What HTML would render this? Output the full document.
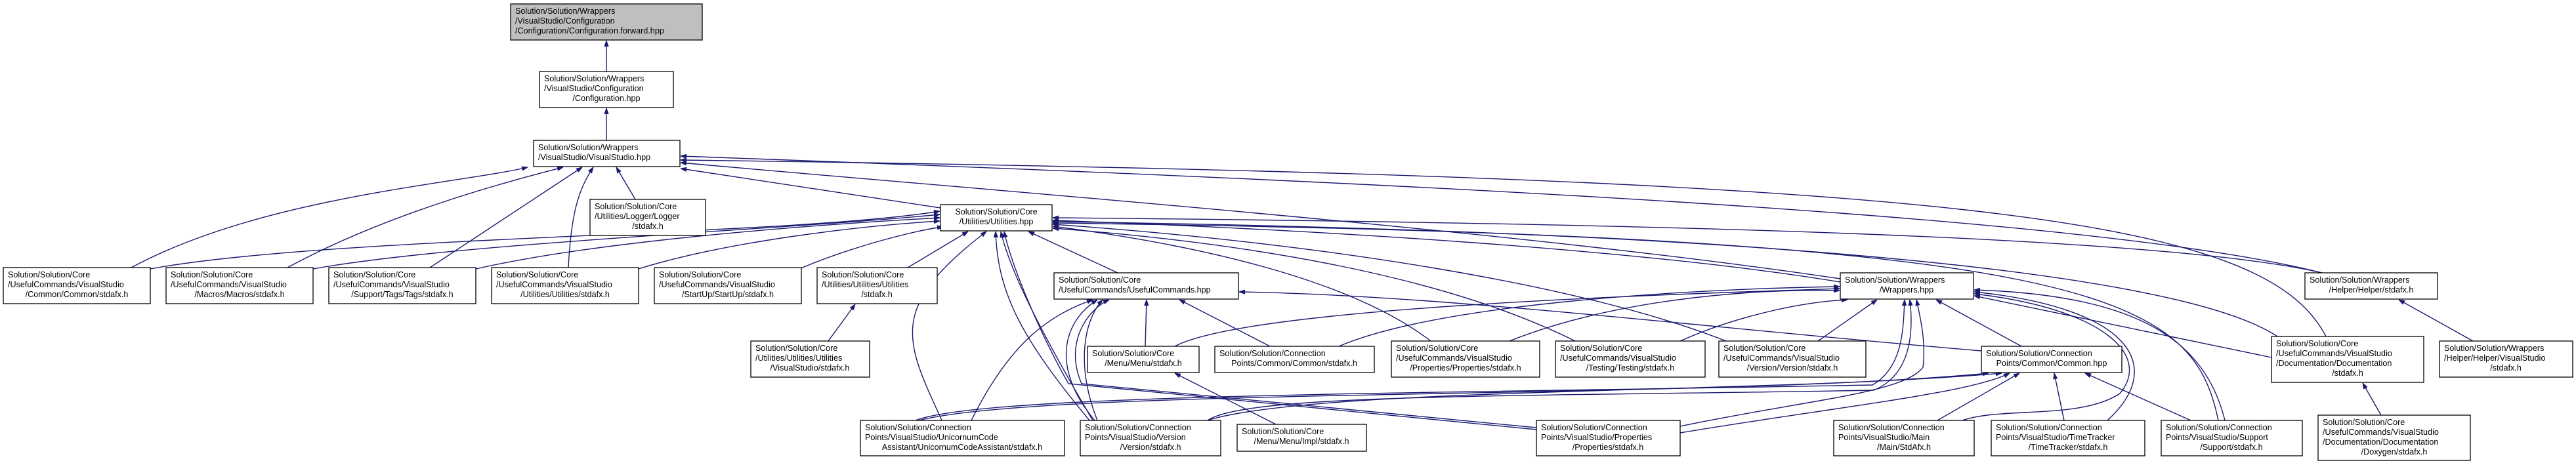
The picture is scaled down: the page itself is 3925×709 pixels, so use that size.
<!DOCTYPE html>
<html><head><meta charset="utf-8">
<style>
html,body{margin:0;padding:0;background:#fff;}
svg{display:block;}
text{font-family:"Liberation Sans",sans-serif;font-size:12.6px;fill:#000;}
.e{fill:none;stroke:#191970;stroke-width:1.4;marker-end:url(#a);}
.n{fill:#fff;stroke:#000;stroke-width:1.3;}
</style></head><body>
<svg width="3925" height="709" viewBox="0 0 3925 709" xmlns="http://www.w3.org/2000/svg">
<defs>
<marker id="a" viewBox="0 0 10 10" refX="10" refY="5" markerWidth="9" markerHeight="9" markerUnits="userSpaceOnUse" orient="auto">
<path d="M0,1.5 L10,5 L0,8.5 z" fill="#191970" stroke="#191970"/>
</marker>
</defs>
<g>
<path class="e" d="M924,109 L924,62"/>
<path class="e" d="M924,214 L924,165"/>
<path class="e" d="M200,408 C400,300 700,280 804,255"/>
<path class="e" d="M438,408 C600,320 800,270 858,255"/>
<path class="e" d="M655,408 L887,255"/>
<path class="e" d="M866,408 C870,330 880,290 904,255"/>
<path class="e" d="M968,304 L939,255"/>
<path class="e" d="M1433,317 L1037,257"/>
<path class="e" d="M2804,425 C2300,350 1500,290 1037,248"/>
<path class="e" d="M3538,416 C3200,330 2200,280 1037,238"/>
<path class="e" d="M3544,513 C3450,330 3000,270 1037,244"/>

<path class="e" d="M229,410 C500,360 1200,360 1432,322"/>
<path class="e" d="M477,410 C700,370 1200,350 1432,327"/>
<path class="e" d="M725,410 C900,370 1200,345 1432,332"/>
<path class="e" d="M973,410 C1100,370 1300,345 1432,337"/>
<path class="e" d="M1218,410 C1300,375 1400,350 1437,346"/>
<path class="e" d="M1383,408 L1475,353"/>
<path class="e" d="M1435,641 C1380,520 1350,470 1503,353"/>
<path class="e" d="M1660,641 C1560,520 1520,450 1517,353"/>
<path class="e" d="M1665,641 C1600,530 1540,420 1525,353"/>
<path class="e" d="M2341,655 L1628,585 C1580,500 1540,400 1530,353"/>
<path class="e" d="M1703,416 L1567,353"/>
<path class="e" d="M2180,520 C2050,420 1800,370 1604,345"/>
<path class="e" d="M2400,520 C2200,420 1900,370 1604,348"/>
<path class="e" d="M2630,520 C2400,430 2000,370 1604,342"/>
<path class="e" d="M3538,416 C3300,360 2500,340 1604,332"/>
<path class="e" d="M3470,513 C3300,400 2500,350 1604,338"/>
<path class="e" d="M3380,641 C3340,450 3200,360 1604,340"/>
<path class="e" d="M2804,430 C2500,380 2000,350 1604,336"/>

<path class="e" d="M1480,641 C1540,520 1600,480 1665,457"/>
<path class="e" d="M1668,641 C1600,560 1620,490 1672,457"/>
<path class="e" d="M1672,641 C1640,560 1650,490 1680,457"/>
<path class="e" d="M2341,652 L1648,585 C1620,520 1660,470 1690,457"/>
<path class="e" d="M1745,528 L1747,457"/>
<path class="e" d="M1935,528 L1797,457"/>
<path class="e" d="M3019,535 C2600,500 2200,450 1888,445"/>

<path class="e" d="M1790,528 C1900,470 2500,450 2803,440"/>
<path class="e" d="M2040,528 C2200,460 2600,440 2803,437"/>
<path class="e" d="M2300,520 C2450,460 2650,440 2803,443"/>
<path class="e" d="M2560,520 C2650,480 2750,460 2815,457"/>
<path class="e" d="M2770,520 L2860,457"/>
<path class="e" d="M3080,528 L2950,457"/>
<path class="e" d="M1395,641 C1500,600 2200,600 2853,587 C2900,560 2900,500 2902,457"/>
<path class="e" d="M1840,641 C1900,600 2300,605 2855,595 C2915,570 2915,500 2910,457"/>
<path class="e" d="M2560,650 C2750,610 2900,600 2930,560 C2935,520 2925,480 2920,457"/>
<path class="e" d="M2990,641 C3050,620 3170,640 3230,600 C3280,540 3200,470 3008,448"/>
<path class="e" d="M3211,641 C3300,560 3250,470 3008,445"/>
<path class="e" d="M3390,641 C3360,520 3260,450 3008,442"/>
<path class="e" d="M3461,545 L3008,451"/>

<path class="e" d="M1400,641 C1600,590 2600,610 3030,569"/>
<path class="e" d="M1840,641 C2000,590 2700,600 3050,569"/>
<path class="e" d="M2560,660 C2800,620 3000,600 3062,569"/>
<path class="e" d="M2952,641 L3077,569"/>
<path class="e" d="M3145,641 L3130,569"/>
<path class="e" d="M3338,641 L3177,569"/>

<path class="e" d="M1944,647 L1790,569"/>
<path class="e" d="M1262,520 L1303,464"/>
<path class="e" d="M3768,520 L3655,457"/>
<path class="e" d="M3628,633 L3600,584"/>
</g>

<g>
<rect x="778" y="6" width="292" height="55" fill="#bfbfbf" stroke="#000" stroke-width="1.3"/>
<text x="785" y="21">Solution/Solution/Wrappers</text>
<text x="785" y="36">/VisualStudio/Configuration</text>
<text x="785" y="51">/Configuration/Configuration.forward.hpp</text>

<rect class="n" x="822" y="109" width="204" height="55"/>
<text x="829" y="124">Solution/Solution/Wrappers</text>
<text x="829" y="139">/VisualStudio/Configuration</text>
<text x="924" y="154" text-anchor="middle">/Configuration.hpp</text>

<rect class="n" x="813" y="214" width="223" height="40"/>
<text x="820" y="229">Solution/Solution/Wrappers</text>
<text x="820" y="244">/VisualStudio/VisualStudio.hpp</text>

<rect class="n" x="899" y="304" width="176" height="55"/>
<text x="906" y="319">Solution/Solution/Core</text>
<text x="906" y="334">/Utilities/Logger/Logger</text>
<text x="987" y="349" text-anchor="middle">/stdafx.h</text>

<rect class="n" x="1433" y="312" width="170" height="40"/>
<text x="1518" y="327" text-anchor="middle">Solution/Solution/Core</text>
<text x="1518" y="342" text-anchor="middle">/Utilities/Utilities.hpp</text>

<rect class="n" x="5" y="408" width="224" height="55"/>
<text x="12" y="423">Solution/Solution/Core</text>
<text x="12" y="438">/UsefulCommands/VisualStudio</text>
<text x="117" y="453" text-anchor="middle">/Common/Common/stdafx.h</text>

<rect class="n" x="253" y="408" width="224" height="55"/>
<text x="260" y="423">Solution/Solution/Core</text>
<text x="260" y="438">/UsefulCommands/VisualStudio</text>
<text x="365" y="453" text-anchor="middle">/Macros/Macros/stdafx.h</text>

<rect class="n" x="501" y="408" width="224" height="55"/>
<text x="508" y="423">Solution/Solution/Core</text>
<text x="508" y="438">/UsefulCommands/VisualStudio</text>
<text x="613" y="453" text-anchor="middle">/Support/Tags/Tags/stdafx.h</text>

<rect class="n" x="749" y="408" width="224" height="55"/>
<text x="756" y="423">Solution/Solution/Core</text>
<text x="756" y="438">/UsefulCommands/VisualStudio</text>
<text x="861" y="453" text-anchor="middle">/Utilities/Utilities/stdafx.h</text>

<rect class="n" x="997" y="408" width="224" height="55"/>
<text x="1004" y="423">Solution/Solution/Core</text>
<text x="1004" y="438">/UsefulCommands/VisualStudio</text>
<text x="1109" y="453" text-anchor="middle">/StartUp/StartUp/stdafx.h</text>

<rect class="n" x="1245" y="408" width="183" height="55"/>
<text x="1252" y="423">Solution/Solution/Core</text>
<text x="1252" y="438">/Utilities/Utilities/Utilities</text>
<text x="1336" y="453" text-anchor="middle">/stdafx.h</text>

<rect class="n" x="1606" y="416" width="281" height="40"/>
<text x="1613" y="431">Solution/Solution/Core</text>
<text x="1613" y="446">/UsefulCommands/UsefulCommands.hpp</text>

<rect class="n" x="2804" y="416" width="203" height="40"/>
<text x="2811" y="431">Solution/Solution/Wrappers</text>
<text x="2905" y="446" text-anchor="middle">/Wrappers.hpp</text>

<rect class="n" x="3512" y="416" width="202" height="40"/>
<text x="3519" y="431">Solution/Solution/Wrappers</text>
<text x="3613" y="446" text-anchor="middle">/Helper/Helper/stdafx.h</text>

<rect class="n" x="3461" y="513" width="232" height="70"/>
<text x="3468" y="528">Solution/Solution/Core</text>
<text x="3468" y="543">/UsefulCommands/VisualStudio</text>
<text x="3468" y="558">/Documentation/Documentation</text>
<text x="3577" y="573" text-anchor="middle">/stdafx.h</text>

<rect class="n" x="1144" y="520" width="181" height="55"/>
<text x="1151" y="535">Solution/Solution/Core</text>
<text x="1151" y="550">/Utilities/Utilities/Utilities</text>
<text x="1234" y="565" text-anchor="middle">/VisualStudio/stdafx.h</text>

<rect class="n" x="2120" y="520" width="226" height="55"/>
<text x="2127" y="535">Solution/Solution/Core</text>
<text x="2127" y="550">/UsefulCommands/VisualStudio</text>
<text x="2233" y="565" text-anchor="middle">/Properties/Properties/stdafx.h</text>

<rect class="n" x="2370" y="520" width="228" height="55"/>
<text x="2377" y="535">Solution/Solution/Core</text>
<text x="2377" y="550">/UsefulCommands/VisualStudio</text>
<text x="2484" y="565" text-anchor="middle">/Testing/Testing/stdafx.h</text>

<rect class="n" x="2619" y="520" width="224" height="55"/>
<text x="2626" y="535">Solution/Solution/Core</text>
<text x="2626" y="550">/UsefulCommands/VisualStudio</text>
<text x="2731" y="565" text-anchor="middle">/Version/Version/stdafx.h</text>

<rect class="n" x="3717" y="520" width="203" height="55"/>
<text x="3724" y="535">Solution/Solution/Wrappers</text>
<text x="3724" y="550">/Helper/Helper/VisualStudio</text>
<text x="3818" y="565" text-anchor="middle">/stdafx.h</text>

<rect class="n" x="1657" y="528" width="170" height="40"/>
<text x="1664" y="543">Solution/Solution/Core</text>
<text x="1742" y="558" text-anchor="middle">/Menu/Menu/stdafx.h</text>

<rect class="n" x="1851" y="528" width="243" height="40"/>
<text x="1858" y="543">Solution/Solution/Connection</text>
<text x="1972" y="558" text-anchor="middle">Points/Common/Common/stdafx.h</text>

<rect class="n" x="3019" y="528" width="214" height="40"/>
<text x="3026" y="543">Solution/Solution/Connection</text>
<text x="3126" y="558" text-anchor="middle">Points/Common/Common.hpp</text>

<rect class="n" x="1311" y="641" width="311" height="54"/>
<text x="1318" y="656">Solution/Solution/Connection</text>
<text x="1318" y="671">Points/VisualStudio/UnicornumCode</text>
<text x="1466" y="686" text-anchor="middle">Assistant/UnicornumCodeAssistant/stdafx.h</text>

<rect class="n" x="1646" y="641" width="214" height="54"/>
<text x="1653" y="656">Solution/Solution/Connection</text>
<text x="1653" y="671">Points/VisualStudio/Version</text>
<text x="1753" y="686" text-anchor="middle">/Version/stdafx.h</text>

<rect class="n" x="1885" y="647" width="197" height="41"/>
<text x="1892" y="662">Solution/Solution/Core</text>
<text x="1983" y="677" text-anchor="middle">/Menu/Menu/Impl/stdafx.h</text>

<rect class="n" x="2341" y="641" width="219" height="54"/>
<text x="2348" y="656">Solution/Solution/Connection</text>
<text x="2348" y="671">Points/VisualStudio/Properties</text>
<text x="2450" y="686" text-anchor="middle">/Properties/stdafx.h</text>

<rect class="n" x="2794" y="641" width="214" height="54"/>
<text x="2801" y="656">Solution/Solution/Connection</text>
<text x="2801" y="671">Points/VisualStudio/Main</text>
<text x="2901" y="686" text-anchor="middle">/Main/StdAfx.h</text>

<rect class="n" x="3034" y="641" width="234" height="54"/>
<text x="3041" y="656">Solution/Solution/Connection</text>
<text x="3041" y="671">Points/VisualStudio/TimeTracker</text>
<text x="3151" y="686" text-anchor="middle">/TimeTracker/stdafx.h</text>

<rect class="n" x="3293" y="641" width="215" height="54"/>
<text x="3300" y="656">Solution/Solution/Connection</text>
<text x="3300" y="671">Points/VisualStudio/Support</text>
<text x="3400" y="686" text-anchor="middle">/Support/stdafx.h</text>

<rect class="n" x="3532" y="633" width="232" height="69"/>
<text x="3539" y="648">Solution/Solution/Core</text>
<text x="3539" y="663">/UsefulCommands/VisualStudio</text>
<text x="3539" y="678">/Documentation/Documentation</text>
<text x="3648" y="693" text-anchor="middle">/Doxygen/stdafx.h</text>
</g>
</svg>
</body></html>
